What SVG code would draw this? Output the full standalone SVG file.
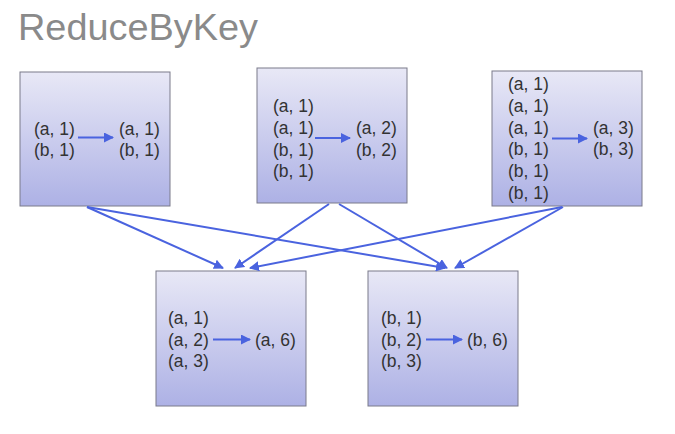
<svg xmlns="http://www.w3.org/2000/svg" width="675" height="434" viewBox="0 0 675 434">
<style>
.box{fill:url(#g);stroke:#7a7a8a;stroke-width:1}
.t{font-family:"Liberation Sans",Arial,sans-serif;font-size:17.5px;fill:#333}
.title{font-family:"Liberation Sans",Arial,sans-serif;font-size:37px;fill:#8a8a8a}
.c{stroke:#4a63df;stroke-width:2;fill:none;marker-end:url(#ah)}
</style>
<defs>
<linearGradient id="g" x1="0" y1="0" x2="0" y2="1">
<stop offset="0" stop-color="#e8e8f6"/>
<stop offset="1" stop-color="#adb1e5"/>
</linearGradient>
<marker id="ah" viewBox="0 0 10 10" refX="9" refY="5" markerWidth="5" markerHeight="5" orient="auto" markerUnits="strokeWidth">
<path d="M0,0 L10,5 L0,10 z" fill="#4a63df"/>
</marker>
</defs>
<rect width="675" height="434" fill="#fff"/>
<text class="title" x="18" y="40" textLength="240" lengthAdjust="spacingAndGlyphs">ReduceByKey</text>

<g id="node1">
<rect class="box" x="20" y="72" width="150" height="134"/>
<text class="t" x="34" y="135">(a, 1)</text>
<text class="t" x="34" y="156">(b, 1)</text>
<text class="t" x="119" y="135">(a, 1)</text>
<text class="t" x="119" y="156">(b, 1)</text>
<line class="c" x1="78" y1="137.5" x2="113" y2="137.5"/>
</g>

<g id="node2">
<rect class="box" x="257" y="68" width="150" height="135"/>
<text class="t" x="273" y="112">(a, 1)</text>
<text class="t" x="273" y="134">(a, 1)</text>
<text class="t" x="273" y="156">(b, 1)</text>
<text class="t" x="273" y="177">(b, 1)</text>
<text class="t" x="356" y="134">(a, 2)</text>
<text class="t" x="356" y="156">(b, 2)</text>
<line class="c" x1="315" y1="138" x2="350" y2="138"/>
</g>

<g id="node3">
<rect class="box" x="492" y="71" width="150" height="135"/>
<text class="t" x="508" y="90">(a, 1)</text>
<text class="t" x="508" y="112">(a, 1)</text>
<text class="t" x="508" y="134">(a, 1)</text>
<text class="t" x="508" y="155">(b, 1)</text>
<text class="t" x="508" y="177">(b, 1)</text>
<text class="t" x="508" y="199">(b, 1)</text>
<text class="t" x="593" y="134">(a, 3)</text>
<text class="t" x="593" y="155">(b, 3)</text>
<line class="c" x1="552" y1="138.5" x2="587" y2="138.5"/>
</g>

<g id="node4">
<rect class="box" x="156" y="271" width="150" height="135"/>
<text class="t" x="168" y="324">(a, 1)</text>
<text class="t" x="168" y="346">(a, 2)</text>
<text class="t" x="168" y="367">(a, 3)</text>
<text class="t" x="255" y="346">(a, 6)</text>
<line class="c" x1="213" y1="339.5" x2="250" y2="339.5"/>
</g>

<g id="node5">
<rect class="box" x="368" y="271" width="150" height="135"/>
<text class="t" x="381" y="324">(b, 1)</text>
<text class="t" x="381" y="346">(b, 2)</text>
<text class="t" x="381" y="367">(b, 3)</text>
<text class="t" x="467" y="346">(b, 6)</text>
<line class="c" x1="426" y1="339.5" x2="462" y2="339.5"/>
</g>

<g id="connectors">
<line class="c" x1="87" y1="207" x2="223" y2="268"/>
<line class="c" x1="87" y1="207" x2="445" y2="268"/>
<line class="c" x1="329" y1="204" x2="235" y2="268"/>
<line class="c" x1="339" y1="204" x2="447" y2="268"/>
<line class="c" x1="562" y1="207" x2="250" y2="268"/>
<line class="c" x1="563" y1="207" x2="455" y2="268"/>
</g>
</svg>
